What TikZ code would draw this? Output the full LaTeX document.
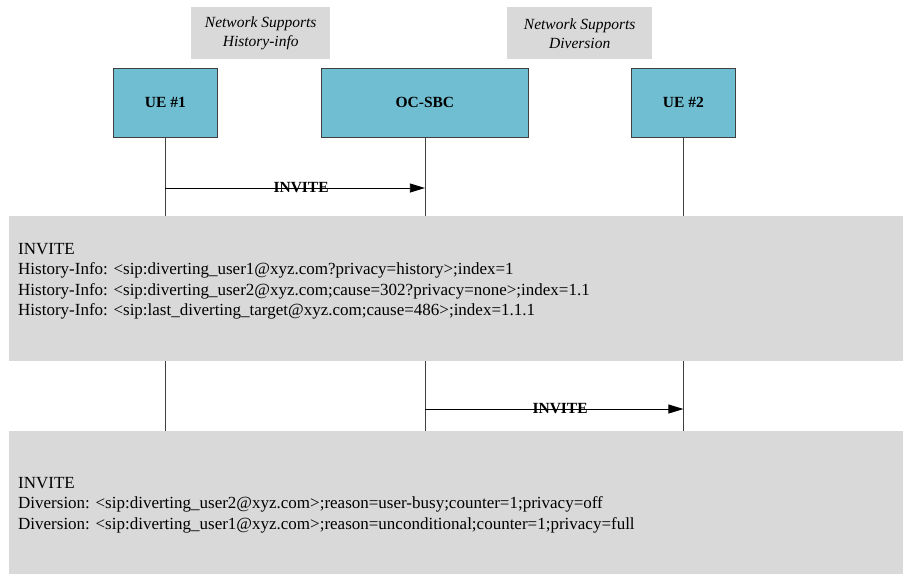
\documentclass[tikz,border=0pt]{standalone}
\usepackage{fontspec}
\setmainfont{Liberation Serif}
\usetikzlibrary{arrows.meta,positioning}
\definecolor{entblue}{RGB}{112,190,210}
\definecolor{boxgray}{RGB}{217,217,217}
\definecolor{linegray}{RGB}{64,64,64}
\begin{document}
\begin{tikzpicture}[x=1pt,y=-1pt,
  entity/.style={draw=linegray, fill=entblue, line width=0.8pt, anchor=north west,
    minimum width=104pt, minimum height=69pt, font=\fontsize{15.5}{18}\selectfont\bfseries},
  note/.style={fill=boxgray, anchor=north west, minimum width=139pt, minimum height=52pt,
    align=center, font=\fontsize{15.5}{19}\selectfont\itshape},
  msgbox/.style={fill=boxgray, anchor=north west, minimum width=894pt, inner sep=0pt},
  msgtext/.style={anchor=north west, align=left, inner sep=0pt, font=\fontsize{17}{20.5}\selectfont},
  life/.style={draw=linegray, line width=0.8pt},
  msg/.style={draw=black, line width=0.8pt, -{Triangle[length=15pt,width=9pt]}},
  msglabel/.style={pos=0.523, inner sep=0pt, font=\fontsize{15.5}{18}\selectfont\bfseries}]
\useasboundingbox (0,0) rectangle (903,574);

% notes above the entities
\node[note] (nhist) at (191,7) {Network Supports\\History-info};
\node[note, minimum width=145pt] (ndiv) at (507,7) {Network Supports\\Diversion};

\node[entity] (ue1) at (113,68) {UE \#1};
\node[entity, minimum width=207pt] (sbc) at (321,68) {OC-SBC};
\node[entity] (ue2) at (631,68) {UE \#2};

\node[msgbox, minimum height=145pt] (hist) at (9,216) {};
\node[msgbox, minimum height=143pt] (div) at (9,431) {};

% lifelines
\foreach \e in {ue1,sbc,ue2} {
  \draw[life] (\e.south) -- (\e.south |- hist.north);
  \draw[life] (\e.south |- hist.south) -- (\e.south |- div.north);
}

\coordinate (inv1a) at (ue1.south |- 0,188);
\coordinate (inv1b) at (sbc.south |- 0,188);
\coordinate (inv2a) at (sbc.south |- 0,409);
\coordinate (inv2b) at (ue2.south |- 0,409);

\draw[msg] (inv1a) -- (inv1b) node[msglabel] {INVITE};
\draw[msg] (inv2a) -- (inv2b) node[msglabel] {INVITE};

\node[msgtext] (histtxt) at (18,243) {INVITE\\
History-Info: <sip:diverting\_user1@xyz.com?privacy=history>;index=1\\
History-Info: <sip:diverting\_user2@xyz.com;cause=302?privacy=none>;index=1.1\\
History-Info: <sip:last\_diverting\_target@xyz.com;cause=486>;index=1.1.1};

\node[msgtext] (divtxt) at (18,477) {INVITE\\
Diversion: <sip:diverting\_user2@xyz.com>;reason=user-busy;counter=1;privacy=off\\
Diversion: <sip:diverting\_user1@xyz.com>;reason=unconditional;counter=1;privacy=full};
\end{tikzpicture}
\end{document}
